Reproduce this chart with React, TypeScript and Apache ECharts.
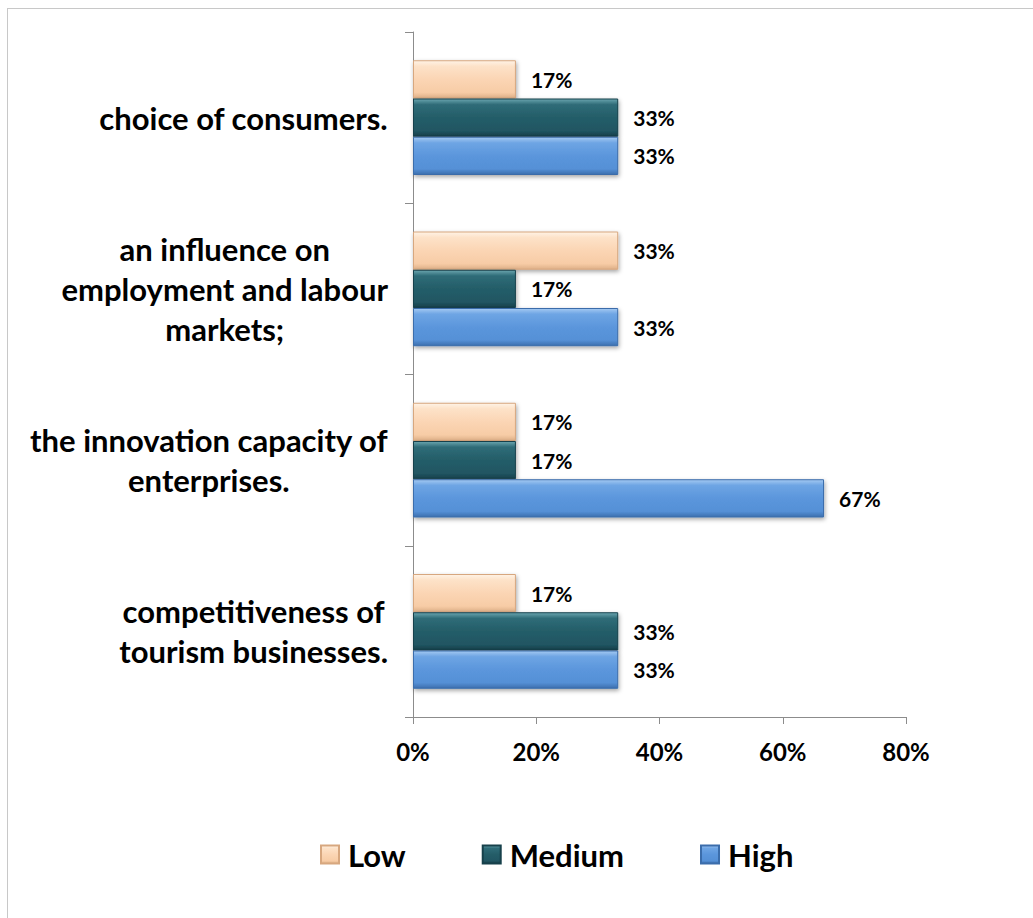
import React, { useEffect, useRef } from "react";
import * as echarts from "echarts";

const categories = [
  "competitiveness of\ntourism businesses.",
  "the innovation capacity of\nenterprises.",
  "an influence on\nemployment and labour\nmarkets;",
  "choice of consumers.",
];
const seriesNames = ["Low", "Medium", "High"];
const lowValues = [16.7, 16.7, 33.3, 16.7];
const mediumValues = [33.3, 16.7, 16.7, 33.3];
const highValues = [33.3, 66.7, 33.3, 33.3];
const xTicks = [0, 20, 40, 60, 80];

const FONT = "Lato, 'Open Sans', sans-serif";

export default function App() {
  const ref = useRef<HTMLDivElement>(null);
  useEffect(() => {
    if (!ref.current) return;
    const chart = echarts.init(ref.current, null, { renderer: "svg" });
    const grad = (stops: [number, string][]) =>
      new echarts.graphic.LinearGradient(0, 0, 0, 1, stops.map(([offset, color]) => ({ offset, color })));
    const styles = [
      {
        color: grad([[0, "#fff3e6"], [0.15, "#fde2c8"], [0.5, "#fbd5b4"], [0.85, "#f7cca6"], [1, "#deb088"]]),
        borderColor: "#d7a77f",
      },
      {
        color: grad([[0, "#6aa5af"], [0.15, "#2f6c78"], [0.5, "#245d68"], [0.85, "#215663"], [1, "#163f49"]]),
        borderColor: "#17414b",
      },
      {
        color: grad([[0, "#a4c9f2"], [0.15, "#6ea5e4"], [0.5, "#5b96dc"], [0.85, "#5590d6"], [1, "#3c6fae"]]),
        borderColor: "#3b6dab",
      },
    ];
    const values = [lowValues, mediumValues, highValues];
    const series = seriesNames.map((name, i) => ({
      name,
      type: "bar",
      data: values[i],
      barGap: "0%",
      barCategoryGap: "33%",
      itemStyle: {
        ...styles[i],
        borderWidth: 1,
        shadowBlur: 4,
        shadowOffsetX: 1,
        shadowOffsetY: 2,
        shadowColor: "rgba(0,0,0,0.35)",
      },
      label: {
        show: true,
        position: "right",
        distance: 15,
        formatter: (p: any) => Math.round(p.value) + "%",
        color: "#000",
        fontFamily: FONT,
        fontWeight: "bold",
        fontSize: 21,
      },
    }));
    const labelStyle = {
      color: "#000",
      fontFamily: FONT,
      fontWeight: "bold",
      fontSize: 31,
      lineHeight: 40,
      align: "center",
    };
    chart.setOption({
      animation: false,
      backgroundColor: "#fff",
      grid: { left: 413, right: 127, top: 32, bottom: 201, containLabel: false },
      legend: {
        data: seriesNames,
        left: 315,
        top: 834,
        itemWidth: 18,
        itemHeight: 18,
        itemGap: 76,
        icon: "rect",
        textStyle: { fontFamily: FONT, fontWeight: "bold", fontSize: 31, color: "#000", padding: [0, 0, 0, 4] },
      },
      xAxis: {
        type: "value",
        min: xTicks[0],
        max: xTicks[xTicks.length - 1],
        interval: 20,
        splitLine: { show: false },
        axisLine: { show: true, lineStyle: { color: "#8c8c8c", width: 1 } },
        axisTick: { show: true, length: 7, lineStyle: { color: "#8c8c8c" } },
        axisLabel: {
          formatter: "{value}%",
          margin: 22,
          color: "#000",
          fontFamily: FONT,
          fontWeight: "bold",
          fontSize: 24,
        },
      },
      yAxis: {
        type: "category",
        data: categories,
        axisLine: { show: true, lineStyle: { color: "#8c8c8c", width: 1 } },
        axisTick: { show: true, length: 8, lineStyle: { color: "#8c8c8c" } },
        axisLabel: {
          margin: 25,
          align: "right",
          color: "#000",
          fontFamily: FONT,
          fontWeight: "bold",
          fontSize: 31,
          lineHeight: 40,
          formatter: (v: string) => v.split("\n").map((l) => `{c|${l}}`).join("\n"),
          rich: { c: labelStyle },
        },
      },
      graphic: [
        { type: "line", shape: { x1: 7.5, y1: 8, x2: 7.5, y2: 918 }, style: { stroke: "#c8c8c8", lineWidth: 1 } },
        { type: "line", shape: { x1: 7, y1: 8.5, x2: 1033, y2: 8.5 }, style: { stroke: "#c8c8c8", lineWidth: 1 } },
      ],
      series,
    });
    return () => chart.dispose();
  }, []);
  return (
    <div
      ref={ref}
      style={{ position: "absolute", left: 0, top: 0, width: 1033, height: 918 }}
    />
  );
}
